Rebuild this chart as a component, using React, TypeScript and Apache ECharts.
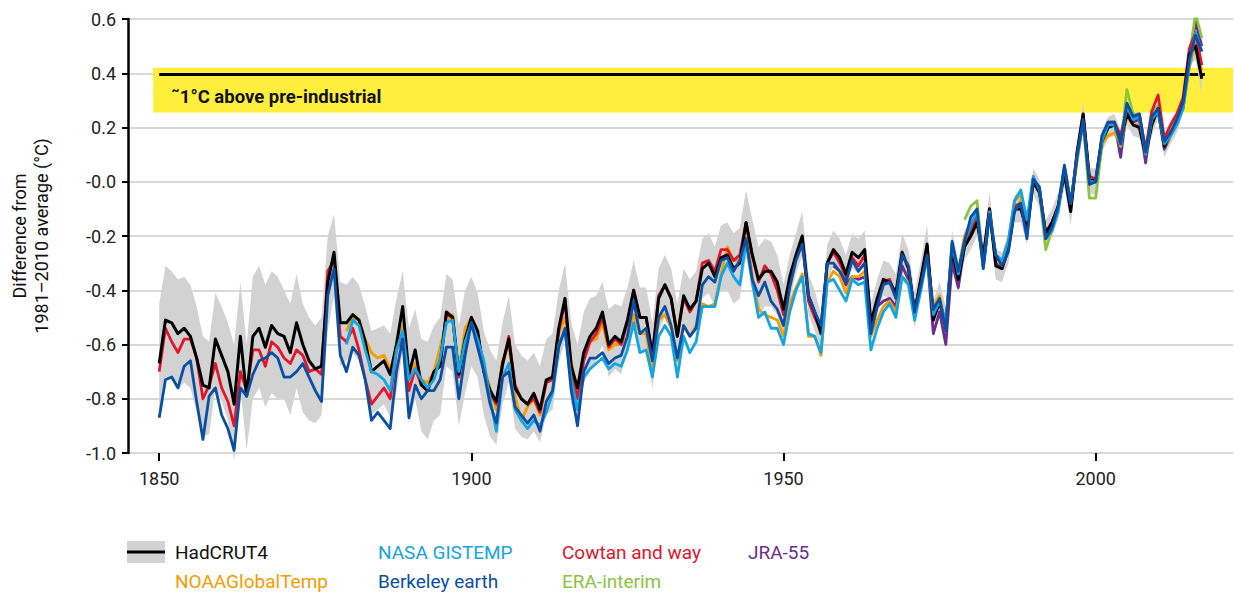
import React, { useEffect, useRef } from 'react';
import * as echarts from 'echarts';

// ---------- data (anomalies vs 1981–2010, °C) ----------
const hadcrutStart = 1850;
const hadcrut = [
  -0.67, -0.51, -0.52, -0.56, -0.54, -0.57, -0.65, -0.75, -0.76, -0.58,
  -0.64, -0.70, -0.82, -0.57, -0.79, -0.57, -0.54, -0.61, -0.53, -0.56,
  -0.57, -0.63, -0.52, -0.60, -0.66, -0.69, -0.68, -0.37, -0.26, -0.52,
  -0.52, -0.49, -0.51, -0.59, -0.70, -0.68, -0.66, -0.71, -0.60, -0.46,
  -0.71, -0.62, -0.75, -0.77, -0.70, -0.68, -0.48, -0.50, -0.71, -0.58,
  -0.50, -0.55, -0.70, -0.77, -0.81, -0.67, -0.58, -0.76, -0.80, -0.82,
  -0.78, -0.84, -0.73, -0.72, -0.54, -0.43, -0.68, -0.76, -0.63, -0.57,
  -0.54, -0.48, -0.60, -0.57, -0.59, -0.51, -0.40, -0.50, -0.50, -0.64,
  -0.43, -0.38, -0.43, -0.57, -0.42, -0.47, -0.44, -0.32, -0.30, -0.35,
  -0.28, -0.27, -0.32, -0.30, -0.15, -0.27, -0.36, -0.33, -0.33, -0.37,
  -0.47, -0.35, -0.27, -0.20, -0.42, -0.48, -0.56, -0.30, -0.25, -0.28,
  -0.34, -0.26, -0.28, -0.25, -0.52, -0.43, -0.36, -0.37, -0.41, -0.26,
  -0.32, -0.48, -0.36, -0.23, -0.51, -0.44, -0.53, -0.25, -0.36, -0.24,
  -0.20, -0.15, -0.28, -0.10, -0.31, -0.32, -0.25, -0.10, -0.10, -0.18,
  0.00, -0.04, -0.19, -0.15, -0.09, 0.03, -0.11, 0.10, 0.25, 0.01,
  0.00, 0.15, 0.20, 0.21, 0.15, 0.25, 0.21, 0.20, 0.10, 0.21,
  0.27, 0.13, 0.18, 0.22, 0.29, 0.47, 0.50, 0.38,
];
const hadcrutUpper = [
  -0.45, -0.31, -0.33, -0.36, -0.35, -0.38, -0.46, -0.57, -0.59, -0.41,
  -0.46, -0.52, -0.60, -0.37, -0.60, -0.35, -0.31, -0.38, -0.33, -0.35,
  -0.40, -0.45, -0.34, -0.45, -0.50, -0.53, -0.50, -0.20, -0.12, -0.37,
  -0.38, -0.35, -0.38, -0.46, -0.55, -0.54, -0.53, -0.56, -0.43, -0.33,
  -0.54, -0.47, -0.58, -0.59, -0.53, -0.50, -0.34, -0.36, -0.53, -0.40,
  -0.35, -0.41, -0.55, -0.62, -0.66, -0.52, -0.42, -0.60, -0.64, -0.66,
  -0.63, -0.68, -0.58, -0.56, -0.40, -0.30, -0.52, -0.60, -0.48, -0.43,
  -0.42, -0.37, -0.47, -0.45, -0.46, -0.39, -0.29, -0.39, -0.39, -0.52,
  -0.32, -0.27, -0.32, -0.45, -0.32, -0.36, -0.33, -0.21, -0.19, -0.24,
  -0.16, -0.15, -0.19, -0.17, -0.03, -0.14, -0.24, -0.21, -0.22, -0.27,
  -0.38, -0.27, -0.19, -0.11, -0.34, -0.40, -0.49, -0.23, -0.18, -0.21,
  -0.27, -0.19, -0.21, -0.18, -0.45, -0.36, -0.29, -0.30, -0.34, -0.19,
  -0.25, -0.41, -0.29, -0.16, -0.44, -0.37, -0.46, -0.18, -0.29, -0.18,
  -0.14, -0.09, -0.22, -0.04, -0.25, -0.26, -0.19, -0.05, -0.04, -0.12,
  0.05, 0.01, -0.14, -0.10, -0.04, 0.08, -0.06, 0.15, 0.29, 0.05,
  0.05, 0.19, 0.24, 0.25, 0.19, 0.29, 0.25, 0.24, 0.14, 0.25,
  0.31, 0.17, 0.22, 0.26, 0.33, 0.51, 0.55, 0.43,
];
const hadcrutLower = [
  -0.86, -0.72, -0.73, -0.77, -0.74, -0.76, -0.85, -0.94, -0.93, -0.76,
  -0.81, -0.88, -1.03, -0.76, -0.99, -0.80, -0.76, -0.83, -0.78, -0.80,
  -0.80, -0.86, -0.76, -0.85, -0.88, -0.89, -0.86, -0.55, -0.42, -0.68,
  -0.66, -0.63, -0.66, -0.74, -0.86, -0.84, -0.82, -0.87, -0.78, -0.62,
  -0.89, -0.80, -0.92, -0.95, -0.88, -0.86, -0.68, -0.70, -0.90, -0.78,
  -0.68, -0.72, -0.86, -0.94, -0.97, -0.82, -0.74, -0.91, -0.94, -0.95,
  -0.92, -0.96, -0.86, -0.84, -0.67, -0.58, -0.82, -0.88, -0.74, -0.70,
  -0.66, -0.60, -0.72, -0.69, -0.71, -0.63, -0.52, -0.62, -0.62, -0.76,
  -0.55, -0.50, -0.54, -0.68, -0.53, -0.58, -0.55, -0.43, -0.41, -0.46,
  -0.40, -0.40, -0.45, -0.43, -0.28, -0.40, -0.50, -0.46, -0.46, -0.49,
  -0.58, -0.44, -0.34, -0.27, -0.49, -0.55, -0.62, -0.36, -0.31, -0.34,
  -0.40, -0.32, -0.34, -0.31, -0.58, -0.49, -0.42, -0.43, -0.47, -0.32,
  -0.38, -0.54, -0.42, -0.29, -0.57, -0.50, -0.59, -0.31, -0.41, -0.29,
  -0.25, -0.20, -0.33, -0.15, -0.36, -0.37, -0.30, -0.15, -0.15, -0.23,
  -0.05, -0.09, -0.24, -0.20, -0.14, -0.02, -0.16, 0.05, 0.20, -0.04,
  -0.05, 0.11, 0.16, 0.17, 0.11, 0.21, 0.17, 0.16, 0.06, 0.17,
  0.23, 0.09, 0.14, 0.18, 0.25, 0.43, 0.45, 0.32,
];
const cowtanStart = 1850;
const cowtan = [
  -0.70, -0.54, -0.59, -0.63, -0.58, -0.58, -0.65, -0.80, -0.75, -0.67,
  -0.76, -0.81, -0.90, -0.70, -0.77, -0.62, -0.62, -0.68, -0.59, -0.61,
  -0.65, -0.67, -0.62, -0.64, -0.70, -0.69, -0.71, -0.33, -0.29, -0.57,
  -0.59, -0.54, -0.62, -0.73, -0.82, -0.79, -0.76, -0.80, -0.62, -0.57,
  -0.77, -0.69, -0.75, -0.77, -0.71, -0.66, -0.49, -0.50, -0.72, -0.59,
  -0.51, -0.56, -0.70, -0.78, -0.82, -0.68, -0.57, -0.75, -0.80, -0.82,
  -0.80, -0.85, -0.74, -0.73, -0.55, -0.44, -0.70, -0.80, -0.66, -0.59,
  -0.56, -0.50, -0.61, -0.58, -0.60, -0.52, -0.40, -0.50, -0.50, -0.64,
  -0.42, -0.38, -0.43, -0.57, -0.43, -0.48, -0.44, -0.30, -0.29, -0.33,
  -0.25, -0.25, -0.29, -0.27, -0.15, -0.27, -0.37, -0.31, -0.34, -0.40,
  -0.49, -0.36, -0.28, -0.21, -0.44, -0.50, -0.55, -0.30, -0.26, -0.30,
  -0.35, -0.28, -0.31, -0.27, -0.53, -0.44, -0.37, -0.36, -0.42, -0.27,
  -0.31, -0.48, -0.36, -0.24, -0.50, -0.45, -0.53, -0.26, -0.34, -0.22,
  -0.18, -0.13, -0.28, -0.10, -0.30, -0.32, -0.24, -0.09, -0.08, -0.17,
  0.01, -0.03, -0.19, -0.15, -0.09, 0.04, -0.10, 0.11, 0.25, 0.02,
  0.01, 0.16, 0.22, 0.22, 0.17, 0.27, 0.24, 0.25, 0.12, 0.26,
  0.32, 0.16, 0.21, 0.25, 0.31, 0.49, 0.55, 0.43,
];
const berkeleyStart = 1850;
const berkeley = [
  -0.87, -0.73, -0.72, -0.76, -0.68, -0.66, -0.81, -0.95, -0.79, -0.76,
  -0.86, -0.91, -0.99, -0.76, -0.79, -0.71, -0.66, -0.65, -0.63, -0.65,
  -0.72, -0.72, -0.70, -0.67, -0.72, -0.77, -0.81, -0.42, -0.32, -0.64,
  -0.70, -0.61, -0.64, -0.73, -0.88, -0.85, -0.88, -0.91, -0.70, -0.58,
  -0.87, -0.75, -0.80, -0.77, -0.77, -0.73, -0.61, -0.61, -0.80, -0.64,
  -0.52, -0.61, -0.70, -0.82, -0.89, -0.72, -0.70, -0.83, -0.86, -0.89,
  -0.86, -0.92, -0.81, -0.77, -0.61, -0.54, -0.77, -0.90, -0.70, -0.65,
  -0.65, -0.63, -0.67, -0.65, -0.64, -0.57, -0.44, -0.56, -0.54, -0.66,
  -0.50, -0.46, -0.53, -0.65, -0.53, -0.57, -0.54, -0.38, -0.35, -0.37,
  -0.29, -0.28, -0.33, -0.29, -0.21, -0.36, -0.42, -0.37, -0.44, -0.47,
  -0.53, -0.39, -0.29, -0.23, -0.42, -0.48, -0.53, -0.30, -0.30, -0.33,
  -0.37, -0.29, -0.33, -0.30, -0.56, -0.46, -0.38, -0.37, -0.43, -0.27,
  -0.31, -0.48, -0.38, -0.27, -0.47, -0.43, -0.55, -0.22, -0.33, -0.22,
  -0.13, -0.10, -0.32, -0.12, -0.27, -0.31, -0.26, -0.11, -0.08, -0.21,
  0.01, -0.02, -0.21, -0.17, -0.09, 0.06, -0.08, 0.09, 0.23, -0.01,
  0.00, 0.17, 0.22, 0.22, 0.14, 0.29, 0.24, 0.25, 0.11, 0.24,
  0.27, 0.15, 0.18, 0.23, 0.29, 0.45, 0.54, 0.48,
];
const nasaStart = 1880;
const nasa = [
  -0.60, -0.51, -0.53, -0.62, -0.70, -0.71, -0.73, -0.77, -0.62, -0.55,
  -0.73, -0.69, -0.73, -0.76, -0.73, -0.65, -0.52, -0.51, -0.70, -0.59,
  -0.52, -0.58, -0.66, -0.80, -0.92, -0.72, -0.67, -0.84, -0.88, -0.91,
  -0.88, -0.90, -0.85, -0.78, -0.60, -0.55, -0.73, -0.84, -0.72, -0.69,
  -0.67, -0.65, -0.69, -0.67, -0.68, -0.62, -0.52, -0.63, -0.62, -0.72,
  -0.57, -0.53, -0.57, -0.72, -0.57, -0.63, -0.59, -0.46, -0.46, -0.46,
  -0.35, -0.30, -0.35, -0.38, -0.22, -0.37, -0.50, -0.48, -0.54, -0.54,
  -0.60, -0.48, -0.40, -0.35, -0.56, -0.57, -0.63, -0.37, -0.36, -0.40,
  -0.44, -0.36, -0.38, -0.37, -0.62, -0.54, -0.48, -0.45, -0.50, -0.35,
  -0.38, -0.51, -0.40, -0.28, -0.49, -0.44, -0.52, -0.23, -0.34, -0.22,
  -0.16, -0.11, -0.32, -0.11, -0.27, -0.29, -0.22, -0.07, -0.03, -0.14,
  0.02, -0.03, -0.21, -0.18, -0.11, 0.06, -0.08, 0.09, 0.22, 0.00,
  0.00, 0.15, 0.21, 0.21, 0.14, 0.28, 0.23, 0.24, 0.10, 0.23,
  0.26, 0.14, 0.17, 0.21, 0.27, 0.43, 0.55, 0.48,
];
const noaaStart = 1880;
const noaa = [
  -0.55, -0.50, -0.51, -0.58, -0.63, -0.65, -0.64, -0.69, -0.62, -0.53,
  -0.73, -0.67, -0.73, -0.74, -0.70, -0.61, -0.52, -0.49, -0.70, -0.54,
  -0.50, -0.56, -0.68, -0.76, -0.84, -0.66, -0.60, -0.79, -0.88, -0.83,
  -0.80, -0.86, -0.74, -0.73, -0.56, -0.50, -0.66, -0.78, -0.65, -0.59,
  -0.58, -0.52, -0.62, -0.60, -0.60, -0.57, -0.49, -0.56, -0.56, -0.70,
  -0.51, -0.49, -0.54, -0.66, -0.53, -0.57, -0.53, -0.45, -0.46, -0.45,
  -0.34, -0.24, -0.29, -0.29, -0.15, -0.35, -0.47, -0.49, -0.50, -0.51,
  -0.57, -0.45, -0.39, -0.34, -0.57, -0.57, -0.64, -0.37, -0.33, -0.35,
  -0.41, -0.35, -0.35, -0.33, -0.57, -0.51, -0.46, -0.44, -0.48, -0.35,
  -0.37, -0.49, -0.39, -0.26, -0.46, -0.42, -0.53, -0.25, -0.33, -0.20,
  -0.16, -0.12, -0.30, -0.10, -0.27, -0.29, -0.22, -0.07, -0.05, -0.16,
  0.01, -0.03, -0.19, -0.16, -0.09, 0.05, -0.08, 0.09, 0.22, 0.01,
  0.00, 0.14, 0.17, 0.18, 0.14, 0.24, 0.21, 0.21, 0.10, 0.21,
  0.27, 0.13, 0.17, 0.21, 0.27, 0.42, 0.51, 0.41,
];
const jraStart = 1958;
const jra = [
  -0.31, -0.33,
  -0.38, -0.35, -0.36, -0.35, -0.55, -0.46, -0.44, -0.43, -0.46, -0.31,
  -0.36, -0.48, -0.38, -0.27, -0.56, -0.48, -0.60, -0.30, -0.39, -0.23,
  -0.17, -0.12, -0.31, -0.12, -0.28, -0.30, -0.24, -0.09, -0.08, -0.18,
  0.01, -0.03, -0.21, -0.17, -0.10, 0.05, -0.09, 0.08, 0.23, 0.00,
  0.00, 0.16, 0.21, 0.22, 0.09, 0.27, 0.22, 0.23, 0.07, 0.24,
  0.26, 0.12, 0.17, 0.22, 0.27, 0.44, 0.59, 0.50,
];
const eraStart = 1979;
const era = [
  -0.14,
  -0.09, -0.07, -0.31, -0.12, -0.27, -0.30, -0.24, -0.10, -0.07, -0.18,
  0.00, -0.04, -0.25, -0.18, -0.10, 0.04, -0.09, 0.07, 0.22, -0.06,
  -0.06, 0.13, 0.20, 0.21, 0.13, 0.34, 0.25, 0.25, 0.10, 0.26,
  0.28, 0.15, 0.19, 0.24, 0.30, 0.46, 0.62, 0.53,
];

const xTicks = [1850, 1900, 1950, 2000];
const preIndustrialLevel = 0.395;
const preIndustrialFrom = 1850;
const preIndustrialTo = 2017.5;
const preIndustrialBand = [0.255, 0.42];
const preIndustrialBandFrom = 1849;
const preIndustrialLabel = '˜1°C above pre-industrial';

const COLORS = {
  hadcrut: '#000000',
  band: '#d2d2d2',
  nasa: '#13a4e4',
  berkeley: '#0b4fa2',
  cowtan: '#e3142c',
  noaa: '#f49c00',
  era: '#8bc43f',
  jra: '#6b2d8e',
  yellow: '#ffef3c',
};

const FONT = 'Roboto, "Noto Sans", sans-serif';

const pairs = (start: number, vals: number[]) => vals.map((v, i) => [start + i, v]);

export default function App() {
  const ref = useRef<HTMLDivElement>(null);

  useEffect(() => {
    if (!ref.current) return;
    const chart = echarts.init(ref.current, undefined, { renderer: 'svg' });

    const bandRows = hadcrutUpper.map((u, i) => [hadcrutStart + i, hadcrutLower[i], u]);

    const lineSeries = (name: string, start: number, vals: number[], color: string, z: number, width = 2.8) => ({
      name,
      type: 'line',
      data: pairs(start, vals),
      showSymbol: false,
      symbol: 'none',
      lineStyle: { color, width, join: 'round' },
      itemStyle: { color },
      z,
      silent: true,
    });

    const legendCol = [175, 378, 562, 748];
    const legendRow = [552, 581];
    const legendText = (text: string, col: number, row: number, color: string) => ({
      type: 'text',
      x: legendCol[col],
      y: legendRow[row],
      style: { text, fill: color, fontSize: 19, fontFamily: FONT, textVerticalAlign: 'middle', textAlign: 'left' },
    });

    chart.setOption({
      animation: false,
      grid: { left: 126, right: 1, top: 19, bottom: 139 },
      xAxis: {
        type: 'value',
        min: 1845,
        max: 2022,
        axisLine: { show: false, onZero: false },
        splitLine: { show: false },
        axisTick: { show: true, customValues: xTicks, length: 8, lineStyle: { color: '#000', width: 2 } },
        axisLabel: {
          customValues: xTicks,
          fontSize: 18,
          color: '#222',
          margin: 16,
          fontFamily: FONT,
          formatter: (v: number) => String(Math.round(v)),
        },
      },
      yAxis: {
        type: 'value',
        min: -1,
        max: 0.6,
        interval: 0.2,
        name: 'Difference from\n1981–2010 average (°C)',
        nameLocation: 'middle',
        nameRotate: 90,
        nameGap: 76,
        nameTextStyle: { fontSize: 18, color: '#111', fontFamily: FONT, lineHeight: 22 },
        axisLine: { show: true, lineStyle: { color: '#000', width: 2.5 } },
        axisTick: { show: true, length: 6, lineStyle: { color: '#000', width: 2 } },
        splitLine: { show: true, lineStyle: { color: '#cbcbcb', width: 1.5 } },
        axisLabel: {
          fontSize: 18,
          color: '#222',
          margin: 12,
          fontFamily: FONT,
          formatter: (v: number) => {
            const s = v.toFixed(1);
            return s === '0.0' || s === '-0.0' ? '-0.0' : s;
          },
        },
      },
      series: [
        {
          name: 'pre-industrial',
          type: 'line',
          data: [[preIndustrialFrom, preIndustrialLevel], [preIndustrialTo, preIndustrialLevel]],
          showSymbol: false,
          symbol: 'none',
          lineStyle: { color: '#000', width: 3 },
          z: 2,
          silent: true,
          markArea: {
            silent: true,
            itemStyle: { color: COLORS.yellow },
            label: {
              show: true,
              position: [18, 20],
              color: '#111',
              fontSize: 18.5,
              fontWeight: 'bold',
              fontFamily: FONT,
            },
            data: [[
              { name: preIndustrialLabel, xAxis: preIndustrialBandFrom, yAxis: preIndustrialBand[1] },
              { xAxis: 2022, yAxis: preIndustrialBand[0] },
            ]],
          },
        },
        {
          name: 'HadCRUT4 range',
          type: 'custom',
          data: bandRows,
          encode: { x: 0, y: [1, 2] },
          z: 3,
          silent: true,
          renderItem: (params: any, api: any) => {
            if (params.dataIndex !== 0) return { type: 'group', children: [] };
            const pts: number[][] = [];
            for (let i = 0; i < bandRows.length; i++) pts.push(api.coord([bandRows[i][0], bandRows[i][2]]));
            for (let i = bandRows.length - 1; i >= 0; i--) pts.push(api.coord([bandRows[i][0], bandRows[i][1]]));
            return { type: 'polygon', shape: { points: pts }, style: { fill: COLORS.band } };
          },
        },
        lineSeries('JRA-55', jraStart, jra, COLORS.jra, 4),
        lineSeries('ERA-interim', eraStart, era, COLORS.era, 4),
        lineSeries('NOAAGlobalTemp', noaaStart, noaa, COLORS.noaa, 4),
        lineSeries('Cowtan and way', cowtanStart, cowtan, COLORS.cowtan, 4),
        lineSeries('HadCRUT4', hadcrutStart, hadcrut, COLORS.hadcrut, 5, 3),
        lineSeries('NASA GISTEMP', nasaStart, nasa, COLORS.nasa, 6),
        lineSeries('Berkeley earth', berkeleyStart, berkeley, COLORS.berkeley, 6),
      ],
      graphic: [
        { type: 'rect', shape: { x: 127, y: 541, width: 38, height: 22 }, style: { fill: COLORS.band } },
        { type: 'line', shape: { x1: 127, y1: 552, x2: 165, y2: 552 }, style: { stroke: '#000', lineWidth: 3 } },
        legendText('HadCRUT4', 0, 0, '#111'),
        legendText('NOAAGlobalTemp', 0, 1, COLORS.noaa),
        legendText('NASA GISTEMP', 1, 0, COLORS.nasa),
        legendText('Berkeley earth', 1, 1, COLORS.berkeley),
        legendText('Cowtan and way', 2, 0, COLORS.cowtan),
        legendText('ERA-interim', 2, 1, COLORS.era),
        legendText('JRA-55', 3, 0, COLORS.jra),
      ],
    });

    return () => chart.dispose();
  }, []);

  return (
    <div
      ref={ref}
      style={{ position: 'fixed', left: 0, top: 0, width: 1234, height: 592, background: '#fff' }}
    />
  );
}
